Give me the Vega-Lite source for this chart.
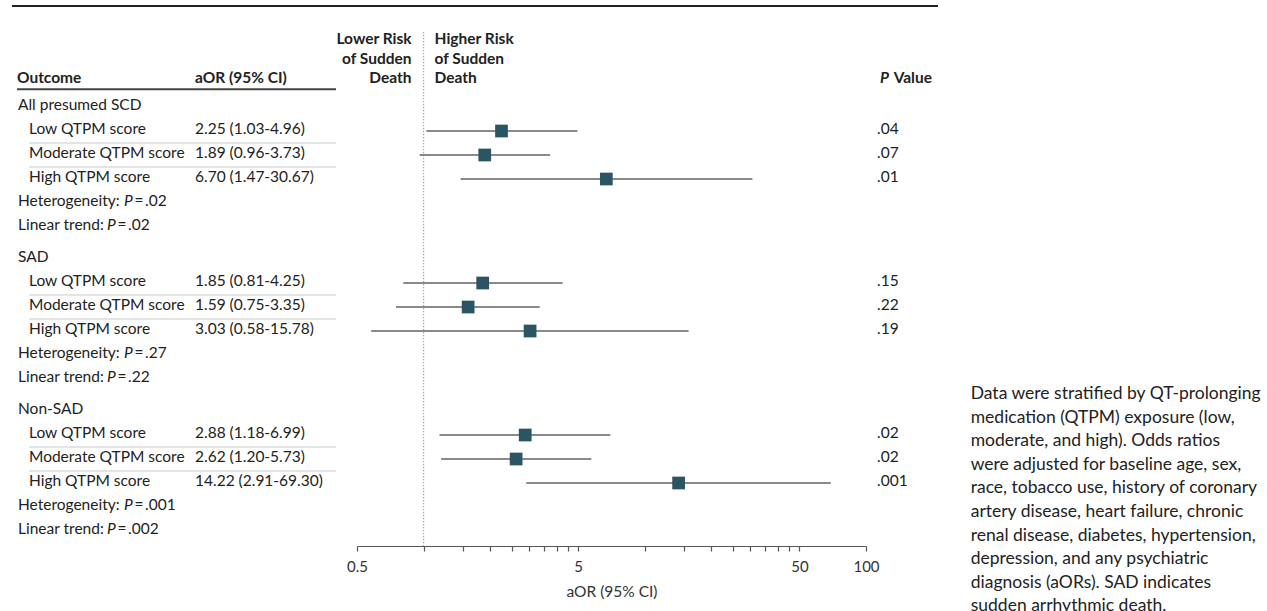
{
  "$schema": "https://vega.github.io/schema/vega-lite/v6.json",
  "width": 926,
  "height": 546,
  "autosize": {"type": "none"},
  "padding": {"left": 12, "top": 0, "right": 329, "bottom": 65},
  "background": "white",
  "config": {
    "view": {"stroke": null},
    "font": "Lato",
    "text": {"font": "Lato", "fontSize": 15.5, "color": "#222"}
  },
  "title": {
    "text": [
      "Data were stratified by QT-prolonging",
      "medication (QTPM) exposure (low,",
      "moderate, and high). Odds ratios",
      "were adjusted for baseline age, sex,",
      "race, tobacco use, history of coronary",
      "artery disease, heart failure, chronic",
      "renal disease, diabetes, hypertension,",
      "depression, and any psychiatric",
      "diagnosis (aORs). SAD indicates",
      "sudden arrhythmic death."
    ],
    "orient": "right",
    "angle": 0,
    "align": "left",
    "baseline": "top",
    "anchor": "start",
    "frame": "group",
    "offset": 32,
    "dx": -291,
    "dy": 385,
    "font": "Lato",
    "fontSize": 17.5,
    "fontWeight": "normal",
    "color": "#222",
    "lineHeight": 23.6
  },
  "datasets": {
    "rows": [
      {"group": "All presumed SCD", "item": "head", "label": "All presumed SCD"},
      {"group": "All presumed SCD", "item": "low", "label": "Low QTPM score", "ci": "2.25 (1.03-4.96)", "or": 2.25, "lo": 1.03, "hi": 4.96, "p": ".04"},
      {"group": "All presumed SCD", "item": "mod", "label": "Moderate QTPM score", "ci": "1.89 (0.96-3.73)", "or": 1.89, "lo": 0.96, "hi": 3.73, "p": ".07"},
      {"group": "All presumed SCD", "item": "high", "label": "High QTPM score", "ci": "6.70 (1.47-30.67)", "or": 6.70, "lo": 1.47, "hi": 30.67, "p": ".01"},
      {"group": "All presumed SCD", "item": "het", "label": "Heterogeneity:", "p": ".02"},
      {"group": "All presumed SCD", "item": "trend", "label": "Linear trend:", "p": ".02"},
      {"group": "SAD", "item": "head", "label": "SAD"},
      {"group": "SAD", "item": "low", "label": "Low QTPM score", "ci": "1.85 (0.81-4.25)", "or": 1.85, "lo": 0.81, "hi": 4.25, "p": ".15"},
      {"group": "SAD", "item": "mod", "label": "Moderate QTPM score", "ci": "1.59 (0.75-3.35)", "or": 1.59, "lo": 0.75, "hi": 3.35, "p": ".22"},
      {"group": "SAD", "item": "high", "label": "High QTPM score", "ci": "3.03 (0.58-15.78)", "or": 3.03, "lo": 0.58, "hi": 15.78, "p": ".19"},
      {"group": "SAD", "item": "het", "label": "Heterogeneity:", "p": ".27"},
      {"group": "SAD", "item": "trend", "label": "Linear trend:", "p": ".22"},
      {"group": "Non-SAD", "item": "head", "label": "Non-SAD"},
      {"group": "Non-SAD", "item": "low", "label": "Low QTPM score", "ci": "2.88 (1.18-6.99)", "or": 2.88, "lo": 1.18, "hi": 6.99, "p": ".02"},
      {"group": "Non-SAD", "item": "mod", "label": "Moderate QTPM score", "ci": "2.62 (1.20-5.73)", "or": 2.62, "lo": 1.20, "hi": 5.73, "p": ".02"},
      {"group": "Non-SAD", "item": "high", "label": "High QTPM score", "ci": "14.22 (2.91-69.30)", "or": 14.22, "lo": 2.91, "hi": 69.30, "p": ".001"},
      {"group": "Non-SAD", "item": "het", "label": "Heterogeneity:", "p": ".001"},
      {"group": "Non-SAD", "item": "trend", "label": "Linear trend:", "p": ".002"}
    ],
    "header": [
      {"part": "table", "col": "Outcome", "line": 3, "text": "Outcome"},
      {"part": "table", "col": "aOR (95% CI)", "line": 3, "text": "aOR (95% CI)"},
      {"part": "lower", "line": 1, "text": "Lower Risk"},
      {"part": "lower", "line": 2, "text": "of Sudden"},
      {"part": "lower", "line": 3, "text": "Death"},
      {"part": "higher", "line": 1, "text": "Higher Risk"},
      {"part": "higher", "line": 2, "text": "of Sudden"},
      {"part": "higher", "line": 3, "text": "Death"},
      {"part": "pitalic", "line": 3, "text": "P"},
      {"part": "p", "line": 3, "text": "Value"}
    ]
  },
  "layer": [
    {
      "data": {"name": "header"},
      "encoding": {
        "y": {"field": "line", "type": "quantitative", "scale": {"domain": [1, 3], "range": [44, 83], "zero": false, "nice": false}, "axis": null}
      },
      "layer": [
        {
          "transform": [{"filter": "datum.part == 'table' && datum.col == 'Outcome'"}],
          "mark": {"type": "rule", "color": "#222", "strokeWidth": 2},
          "encoding": {"y": {"datum": -0.95, "type": "quantitative"}}
        },
        {
          "layer": [
            {
              "transform": [{"filter": "datum.part == 'table'"}],
              "mark": {"type": "text", "align": "left", "baseline": "alphabetic", "fontWeight": "bold", "fontSize": 15.5},
              "encoding": {
                "x": {"field": "col", "type": "nominal", "bandPosition": 0, "scale": {"type": "band", "domain": ["Outcome", "aOR (95% CI)"], "range": [5, 324], "paddingInner": 0.2079, "paddingOuter": 0}, "axis": null},
                "text": {"field": "text"}
              }
            },
            {
              "transform": [{"filter": "datum.part == 'table' && datum.col == 'Outcome'"}],
              "mark": {"type": "rule", "color": "#444", "strokeWidth": 2},
              "encoding": {
                "x": {"datum": "Outcome", "type": "nominal", "bandPosition": 0},
                "x2": {"datum": "aOR (95% CI)", "bandPosition": 1},
                "y": {"datum": 3.32, "type": "quantitative"}
              }
            }
          ]
        },
        {
          "layer": [
            {
              "transform": [{"filter": "datum.part == 'lower'"}],
              "mark": {"type": "text", "align": "right", "baseline": "alphabetic", "fontWeight": "bold", "fontSize": 15.5, "dx": -12},
              "encoding": {
                "x": {"datum": 1, "type": "quantitative", "scale": {"type": "log", "domain": [0.5, 100], "range": [345, 854], "nice": false}, "axis": null},
                "text": {"field": "text"}
              }
            },
            {
              "transform": [{"filter": "datum.part == 'higher'"}],
              "mark": {"type": "text", "align": "left", "baseline": "alphabetic", "fontWeight": "bold", "fontSize": 15.5, "dx": 11},
              "encoding": {
                "x": {"datum": 1, "type": "quantitative"},
                "text": {"field": "text"}
              }
            },
            {
              "transform": [{"filter": "datum.part == 'lower' && datum.line == 1"}],
              "mark": {"type": "rule", "color": "#8a8a8a", "strokeWidth": 1.2, "strokeDash": [1, 2]},
              "encoding": {
                "x": {"datum": 1, "type": "quantitative"},
                "y": {"datum": 0.4, "type": "quantitative"},
                "y2": {"value": "height"}
              }
            }
          ]
        },
        {
          "layer": [
            {
              "transform": [{"filter": "datum.part == 'p'"}],
              "mark": {"type": "text", "align": "right", "baseline": "alphabetic", "fontWeight": "bold", "fontSize": 15.5},
              "encoding": {
                "x": {"datum": "P Value", "type": "nominal", "bandPosition": 1, "scale": {"type": "band", "domain": ["P Value"], "range": [865, 920], "paddingInner": 0, "paddingOuter": 0}, "axis": null},
                "text": {"field": "text"}
              }
            },
            {
              "transform": [{"filter": "datum.part == 'pitalic'"}],
              "mark": {"type": "text", "align": "right", "baseline": "alphabetic", "fontWeight": "bold", "fontStyle": "italic", "fontSize": 15.5, "dx": -43},
              "encoding": {
                "x": {"datum": "P Value", "type": "nominal", "bandPosition": 1},
                "text": {"field": "text"}
              }
            }
          ]
        }
      ],
      "resolve": {"scale": {"x": "independent"}, "axis": {"x": "independent"}}
    },
    {
      "data": {"name": "rows"},
      "encoding": {
        "y": {"field": "group", "type": "nominal", "scale": {"type": "band", "domain": ["All presumed SCD", "SAD", "Non-SAD"], "range": [95, 543], "paddingInner": 0.05263, "paddingOuter": 0}, "axis": null},
        "yOffset": {"field": "item", "type": "nominal", "scale": {"type": "band", "domain": ["head", "low", "mod", "high", "het", "trend"], "paddingInner": 0, "paddingOuter": 0}}
      },
      "layer": [
        {
          "layer": [
            {
              "transform": [{"filter": {"field": "item", "oneOf": ["head", "het", "trend"]}}],
              "mark": {"type": "text", "align": "left", "baseline": "alphabetic", "dy": 3, "dx": 1},
              "encoding": {
                "x": {"datum": "Outcome", "type": "nominal", "bandPosition": 0, "scale": {"type": "band", "domain": ["Outcome", "aOR (95% CI)"], "range": [5, 324], "paddingInner": 0.2079, "paddingOuter": 0}, "axis": null},
                "text": {"field": "label"}
              }
            },
            {
              "transform": [{"filter": {"field": "item", "oneOf": ["low", "mod", "high"]}}],
              "mark": {"type": "text", "align": "left", "baseline": "alphabetic", "dy": 3, "dx": 12},
              "encoding": {
                "x": {"datum": "Outcome", "type": "nominal", "bandPosition": 0},
                "text": {"field": "label"}
              }
            },
            {
              "transform": [{"filter": {"field": "item", "oneOf": ["low", "mod", "high"]}}],
              "mark": {"type": "text", "align": "left", "baseline": "alphabetic", "dy": 3},
              "encoding": {
                "x": {"datum": "aOR (95% CI)", "type": "nominal", "bandPosition": 0},
                "text": {"field": "ci"}
              }
            },
            {
              "transform": [{"filter": {"field": "item", "oneOf": ["het", "trend"]}}],
              "mark": {"type": "text", "align": "left", "baseline": "alphabetic", "dy": 3, "fontStyle": "italic", "dx": {"expr": "datum.item === 'het' ? 107 : 90"}},
              "encoding": {
                "x": {"datum": "Outcome", "type": "nominal", "bandPosition": 0},
                "text": {"value": "P"}
              }
            },
            {
              "transform": [{"filter": {"field": "item", "oneOf": ["het", "trend"]}}],
              "mark": {"type": "text", "align": "left", "baseline": "alphabetic", "dy": 3, "dx": {"expr": "datum.item === 'het' ? 117.5 : 100.5"}},
              "encoding": {
                "x": {"datum": "Outcome", "type": "nominal", "bandPosition": 0},
                "text": {"value": "="}
              }
            },
            {
              "transform": [{"filter": {"field": "item", "oneOf": ["het", "trend"]}}],
              "mark": {"type": "text", "align": "left", "baseline": "alphabetic", "dy": 3, "dx": {"expr": "datum.item === 'het' ? 128 : 111"}},
              "encoding": {
                "x": {"datum": "Outcome", "type": "nominal", "bandPosition": 0},
                "text": {"field": "p"}
              }
            },
            {
              "transform": [{"filter": {"field": "item", "oneOf": ["low", "mod"]}}],
              "mark": {"type": "rule", "color": "#c8c8c8", "strokeWidth": 1},
              "encoding": {
                "x": {"datum": "Outcome", "type": "nominal", "bandPosition": 0.085},
                "x2": {"datum": "aOR (95% CI)", "bandPosition": 1},
                "yOffset": {"field": "item", "type": "nominal", "scale": {"type": "point", "domain": ["head", "low", "mod", "high", "het", "trend"], "padding": 0.5, "align": 1}}
              }
            }
          ],
          "resolve": {"scale": {"yOffset": "independent"}}
        },
        {
          "transform": [{"filter": "isValid(datum.or)"}],
          "layer": [
            {
              "mark": {"type": "rule", "color": "#636363", "strokeWidth": 1.5},
              "encoding": {
                "x": {
                  "field": "lo", "type": "quantitative",
                  "scale": {"type": "log", "domain": [0.5, 100], "range": [345, 854], "nice": false},
                  "axis": {
                    "orient": "bottom",
                    "title": "aOR (95% CI)",
                    "values": [0.5, 1, 1.5, 2, 2.5, 3, 3.5, 4, 4.5, 5, 10, 15, 20, 25, 30, 35, 40, 45, 50, 100],
                    "labelExpr": "indexof([0.5, 5, 50, 100], datum.value) >= 0 ? '' + datum.value : ''",
                    "grid": false,
                    "domainColor": "#555", "domainWidth": 1.2,
                    "tickColor": "#555", "tickWidth": 1.2, "tickSize": 5,
                    "labelFont": "Lato", "labelFontSize": 15, "labelColor": "#333", "labelPadding": 8,
                    "labelOverlap": false, "labelFlush": false,
                    "titleFont": "Lato", "titleFontSize": 15.5, "titleFontWeight": "normal", "titleColor": "#333", "titlePadding": 10
                  }
                },
                "x2": {"field": "hi"}
              }
            },
            {
              "mark": {"type": "point", "shape": "square", "filled": true, "opacity": 1, "color": "#2c5563", "size": 162, "strokeWidth": 0},
              "encoding": {
                "x": {"field": "or", "type": "quantitative"}
              }
            }
          ]
        },
        {
          "transform": [{"filter": {"field": "item", "oneOf": ["low", "mod", "high"]}}],
          "mark": {"type": "text", "align": "left", "baseline": "alphabetic", "dy": 3},
          "encoding": {
            "x": {"datum": "P Value", "type": "nominal", "bandPosition": 0, "scale": {"type": "band", "domain": ["P Value"], "range": [865, 920], "paddingInner": 0, "paddingOuter": 0}, "axis": null},
            "text": {"field": "p"}
          }
        }
      ],
      "resolve": {"scale": {"x": "independent", "yOffset": "independent"}, "axis": {"x": "independent"}}
    }
  ],
  "resolve": {"scale": {"x": "independent", "y": "independent"}, "axis": {"x": "independent", "y": "independent"}}
}
